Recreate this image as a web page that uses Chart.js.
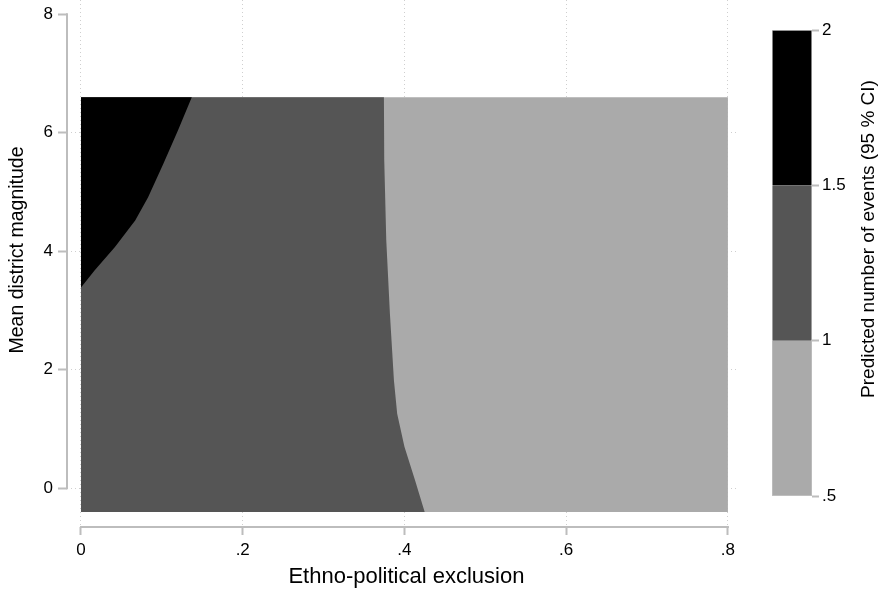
<!DOCTYPE html>
<html>
<head>
<meta charset="utf-8">
<script src="https://cdn.jsdelivr.net/npm/chart.js@4.4.1/dist/chart.umd.min.js"></script>
<style>
  html, body { margin: 0; padding: 0; background: #fff; }
  #wrap { position: relative; width: 890px; height: 592px; }
  #mainChart { position: absolute; left: 0; top: 0; }
  #barChart { position: absolute; left: 740px; top: 0; }
</style>
</head>
<body>
<div id="wrap">
  <canvas id="mainChart" width="750" height="592"></canvas>
  <canvas id="barChart" width="150" height="592"></canvas>
</div>
<script>
// axis ticks
var xTicks = [0, 0.2, 0.4, 0.6, 0.8];
var xTickLabels = ['0', '.2', '.4', '.6', '.8'];
var yTicks = [0, 2, 4, 6, 8];
var legendTicks = [0.5, 1, 1.5, 2];
var legendTickLabels = ['.5', '1', '1.5', '2'];

// contour bands of predicted number of events
var levelBands = [[0.5, 1], [1, 1.5], [1.5, 2]];
var levelColors = ['#aaaaaa', '#555555', '#000000'];

// extent of the prediction grid
var gridX = [0, 0.8];
var gridY = [-0.4, 6.6];

// contour line at 1 events, read bottom to top
var contour1Y = [-0.4, 0.14, 0.70, 1.26, 1.82, 2.95, 4.19, 5.54, 6.6];
var contour1X = [0.425, 0.413, 0.400, 0.391, 0.387, 0.382, 0.3775, 0.375, 0.3746];

// contour line at 1.5 events, read bottom to top
var contour15Y = [3.39, 3.68, 4.07, 4.52, 4.91, 5.48, 6.04, 6.6];
var contour15X = [0, 0.017, 0.042, 0.067, 0.083, 0.102, 0.120, 0.137];

var FONT = '"Liberation Sans", Arial, sans-serif';

function toPoints(xs, ys) {
    return xs.map(function (x, i) { return { x: x, y: ys[i] }; });
}

var lowBand = [
    { x: gridX[0], y: gridY[0] }, { x: gridX[1], y: gridY[0] },
    { x: gridX[1], y: gridY[1] }, { x: gridX[0], y: gridY[1] }
];
var midBand = [{ x: gridX[0], y: gridY[0] }]
    .concat(toPoints(contour1X, contour1Y))
    .concat([{ x: gridX[0], y: gridY[1] }]);
var highBand = toPoints(contour15X, contour15Y)
    .concat([{ x: gridX[0], y: gridY[1] }]);

function band(points, color) {
    return {
        data: points,
        showLine: true,
        fill: 'shape',
        backgroundColor: color,
        borderColor: 'rgba(0,0,0,0)',
        borderWidth: 0,
        pointRadius: 0,
        pointHoverRadius: 0
    };
}

function gridColor(hideValue) {
    return function (ctx) {
        return ctx.tick && ctx.tick.value === hideValue ? 'rgba(0,0,0,0)' : '#cfcfcf';
    };
}

// axis lines that only span the tick range, plus axis titles
var stataFrame = {
    id: 'stataFrame',
    afterDraw: function (chart) {
        var ctx = chart.ctx, xs = chart.scales.x, ys = chart.scales.y, area = chart.chartArea;
        ctx.save();
        ctx.strokeStyle = '#bdbdbd';
        ctx.lineWidth = 2;
        ctx.beginPath();
        ctx.moveTo(area.left, ys.getPixelForValue(yTicks[yTicks.length - 1]) - 1);
        ctx.lineTo(area.left, ys.getPixelForValue(yTicks[0]) + 1);
        ctx.moveTo(xs.getPixelForValue(xTicks[0]) - 1, area.bottom);
        ctx.lineTo(xs.getPixelForValue(xTicks[xTicks.length - 1]) + 1, area.bottom);
        ctx.stroke();

        ctx.fillStyle = '#000';
        ctx.textAlign = 'center';
        ctx.textBaseline = 'middle';
        ctx.font = '22px ' + FONT;
        var midX = (xs.getPixelForValue(xTicks[0]) + xs.getPixelForValue(xTicks[xTicks.length - 1])) / 2;
        ctx.fillText('Ethno-political exclusion', midX + 2, 577);
        ctx.font = '19.5px ' + FONT;
        ctx.translate(18, 250);
        ctx.rotate(-Math.PI / 2);
        ctx.fillText('Mean district magnitude', 0, 0);
        ctx.restore();
    }
};

var mainCtx = document.getElementById('mainChart').getContext('2d');
var mainChart = new Chart(mainCtx, {
    type: 'scatter',
    data: {
        datasets: [
            band(highBand, levelColors[2]),
            band(midBand, levelColors[1]),
            band(lowBand, levelColors[0])
        ]
    },
    options: {
        responsive: false,
        animation: false,
        events: [],
        layout: { padding: { left: 0, right: 14, top: 0, bottom: 0 } },
        plugins: {
            legend: { display: false },
            tooltip: { enabled: false }
        },
        scales: {
            x: {
                type: 'linear',
                min: -0.0173,
                max: 0.81,
                afterBuildTicks: function (s) { s.ticks = xTicks.map(function (v) { return { value: v }; }); },
                afterFit: function (s) { s.height = 65; s.paddingLeft = 0; s.paddingRight = 0; },
                ticks: {
                    callback: function (v, i) { return xTickLabels[i]; },
                    font: { family: FONT, size: 17 },
                    color: '#000',
                    padding: 5,
                    maxRotation: 0,
                    autoSkip: false
                },
                grid: {
                    color: gridColor(null),
                    borderDash: [1, 3],
                    tickColor: '#bdbdbd',
                    tickBorderDash: [],
                    tickLength: 8,
                    tickWidth: 2,
                    lineWidth: 1
                },
                border: { display: false, dash: [1, 3] }
            },
            y: {
                type: 'linear',
                min: -0.653,
                max: 8.24,
                afterBuildTicks: function (s) { s.ticks = yTicks.map(function (v) { return { value: v }; }); },
                afterFit: function (s) { s.width = 67; s.paddingTop = 0; s.paddingBottom = 0; },
                ticks: {
                    callback: function (v, i) { return String(yTicks[i]); },
                    font: { family: FONT, size: 17 },
                    color: '#000',
                    padding: 5
                },
                grid: {
                    color: gridColor(8),
                    borderDash: [1, 3],
                    tickColor: '#bdbdbd',
                    tickBorderDash: [],
                    tickLength: 9,
                    tickWidth: 2,
                    lineWidth: 1
                },
                border: { display: false, dash: [1, 3] }
            }
        }
    },
    plugins: [stataFrame]
});

// colour bar legend
var bandBorders = [
    { top: 0, right: 1, bottom: 1, left: 1 },
    { top: 0, right: 1, bottom: 0, left: 1 },
    { top: 1, right: 1, bottom: 0, left: 1 }
];

var legendTitle = {
    id: 'legendTitle',
    afterDraw: function (chart) {
        var ctx = chart.ctx;
        ctx.save();
        ctx.fillStyle = '#000';
        ctx.font = '19px ' + FONT;
        ctx.textAlign = 'center';
        ctx.textBaseline = 'middle';
        ctx.translate(129, 239);
        ctx.rotate(-Math.PI / 2);
        ctx.fillText('Predicted number of events (95 % CI)', 0, 0);
        ctx.restore();
    }
};

var barCtx = document.getElementById('barChart').getContext('2d');
var barChart = new Chart(barCtx, {
    type: 'bar',
    data: {
        labels: [''],
        datasets: levelBands.map(function (b, i) {
            return {
                data: [b],
                backgroundColor: levelColors[i],
                borderColor: '#c4c4c4',
                borderWidth: bandBorders[i],
                borderSkipped: false,
                barPercentage: 1,
                categoryPercentage: 1
            };
        })
    },
    options: {
        responsive: false,
        animation: false,
        events: [],
        layout: { padding: { left: 32, top: 30, bottom: 96, right: 0 } },
        plugins: {
            legend: { display: false },
            tooltip: { enabled: false }
        },
        scales: {
            x: { display: false, stacked: true },
            y: {
                position: 'right',
                min: 0.5,
                max: 2,
                stacked: false,
                afterBuildTicks: function (s) { s.ticks = legendTicks.map(function (v) { return { value: v }; }); },
                afterFit: function (s) { s.width = 78; },
                ticks: {
                    callback: function (v, i) { return legendTickLabels[i]; },
                    font: { family: FONT, size: 17 },
                    color: '#000',
                    padding: 3
                },
                grid: {
                    drawOnChartArea: false,
                    tickLength: 7,
                    tickColor: '#bdbdbd',
                    tickWidth: 2
                },
                border: { display: false }
            }
        }
    },
    plugins: [legendTitle]
});
</script>
</body>
</html>
